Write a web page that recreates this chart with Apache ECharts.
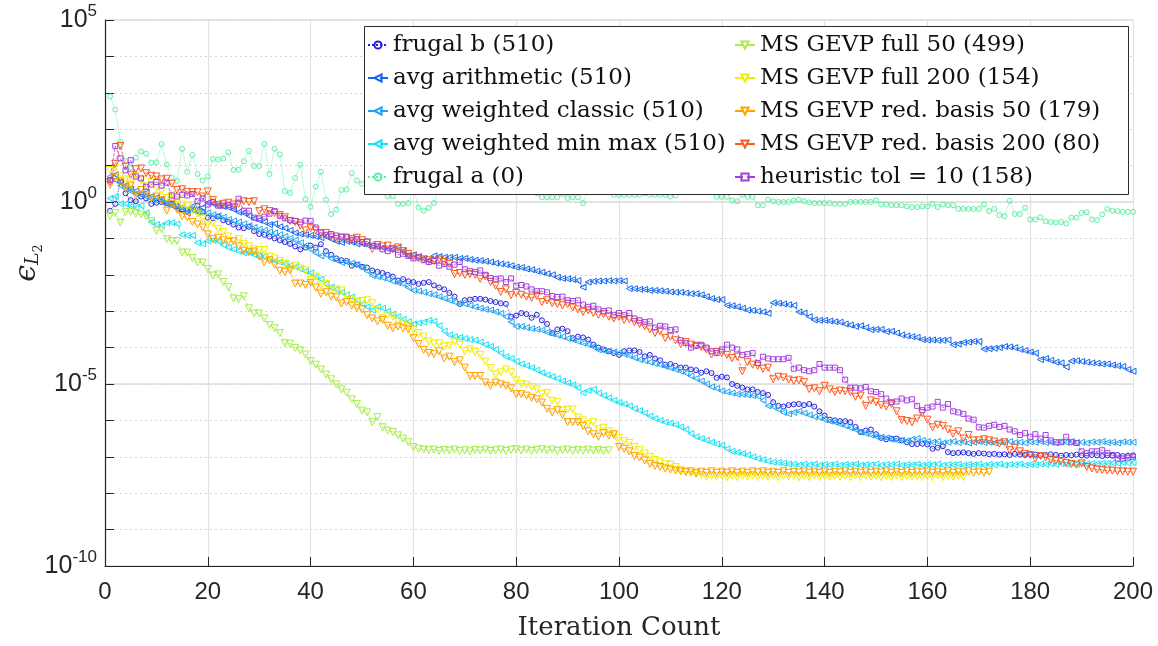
<!DOCTYPE html>
<html><head><meta charset="utf-8">
<script src="https://cdn.jsdelivr.net/npm/echarts@6/dist/echarts.min.js"></script>
<style>html,body{margin:0;padding:0;background:#fff}#c{width:1158px;height:646px}</style>
</head><body><div id="c"></div>
<script>
// Values are log10 of the error, one per iteration starting at iteration 1
var seriesNames = ['frugal b (510)','avg arithmetic (510)','avg weighted classic (510)','avg weighted min max (510)','frugal a (0)',
  'MS GEVP full 50 (499)','MS GEVP full 200 (154)','MS GEVP red. basis 50 (179)','MS GEVP red. basis 200 (80)','heuristic tol = 10 (158)'];
var xTicks = [0,20,40,60,80,100,120,140,160,180,200];
var yDecadeLabels = [-10,-5,0,5];

var frugalB_log10 = [
-0.24,-0.05,0.56,0.24,0.05,0.02,0.15,0.10,-0.05,-0.02,
0.00,-0.03,-0.05,-0.12,-0.20,-0.25,-0.15,-0.10,-0.28,-0.43,
-0.45,-0.40,-0.50,-0.55,-0.62,-0.70,-0.72,-0.68,-0.80,-0.88,
-0.90,-0.95,-1.00,-1.05,-1.10,-1.15,-1.22,-1.30,-1.25,-1.20,
-1.25,-1.16,-1.35,-1.45,-1.55,-1.60,-1.62,-1.75,-1.72,-1.78,
-1.80,-1.88,-1.92,-1.95,-2.00,-2.05,-2.16,-2.12,-2.18,-2.20,
-2.25,-2.22,-2.20,-2.29,-2.35,-2.40,-2.50,-2.60,-2.80,-2.70,
-2.68,-2.66,-2.66,-2.68,-2.72,-2.75,-2.78,-2.80,-3.15,-3.12,
-3.05,-3.08,-3.18,-3.10,-3.25,-3.35,-3.60,-3.50,-3.48,-3.55,
-3.74,-3.70,-3.72,-3.78,-3.92,-4.00,-4.05,-4.10,-4.15,-4.20,
-4.10,-4.08,-4.08,-4.12,-4.24,-4.20,-4.30,-4.35,-4.47,-4.45,
-4.50,-4.55,-4.55,-4.60,-4.62,-4.69,-4.65,-4.70,-4.83,-4.80,
-4.82,-5.00,-5.05,-5.10,-5.15,-5.15,-5.22,-5.25,-5.30,-5.50,
-5.60,-5.62,-5.58,-5.56,-5.55,-5.58,-5.55,-5.62,-5.75,-5.87,
-5.98,-6.00,-6.02,-6.02,-6.05,-6.18,-6.32,-6.28,-6.25,-6.38,
-6.48,-6.52,-6.50,-6.50,-6.55,-6.60,-6.65,-6.65,-6.64,-6.66,
-6.78,-6.75,-6.71,-6.87,-6.90,-6.89,-6.88,-6.90,-6.92,-6.90,
-6.91,-6.93,-6.92,-6.94,-6.93,-6.95,-6.92,-6.94,-6.95,-6.93,
-6.94,-6.96,-6.95,-6.93,-6.95,-6.97,-6.95,-6.96,-6.94,-6.96,
-6.97,-6.95,-6.96,-6.98,-6.96,-6.97,-6.95,-6.98,-6.97,-6.96];

var avgArithmetic_log10 = [
0.62,0.75,0.55,0.45,0.35,0.30,0.21,0.25,0.15,0.12,
0.05,-0.05,-0.10,-0.18,-0.25,-0.30,-0.22,-0.28,-0.15,-0.02,
-0.05,-0.10,-0.12,-0.15,-0.20,-0.28,-0.30,-0.38,-0.45,-0.50,
-0.55,-0.62,-0.60,-0.68,-0.72,-0.78,-0.85,-0.88,-0.90,-0.92,
-0.95,-0.98,-0.95,-1.02,-1.08,-1.11,-1.08,-1.10,-1.15,-1.15,
-1.18,-1.20,-1.22,-1.25,-1.28,-1.30,-1.25,-1.35,-1.48,-1.45,
-1.50,-1.55,-1.60,-1.48,-1.50,-1.52,-1.52,-1.52,-1.55,-1.55,
-1.58,-1.60,-1.61,-1.63,-1.65,-1.68,-1.70,-1.72,-1.75,-1.79,
-1.80,-1.84,-1.86,-1.90,-1.93,-1.97,-2.00,-2.07,-2.10,-2.11,
-2.13,-2.16,-2.34,-2.20,-2.18,-2.17,-2.17,-2.16,-2.17,-2.16,
-2.17,-2.38,-2.38,-2.40,-2.40,-2.43,-2.43,-2.44,-2.45,-2.47,
-2.48,-2.48,-2.50,-2.52,-2.52,-2.55,-2.60,-2.65,-2.68,-2.68,
-2.84,-2.85,-2.88,-2.92,-2.97,-2.98,-3.00,-3.02,-3.06,-2.77,
-2.78,-2.80,-2.82,-2.84,-3.02,-3.05,-3.15,-3.24,-3.25,-3.25,
-3.27,-3.29,-3.30,-3.35,-3.38,-3.42,-3.40,-3.45,-3.51,-3.50,
-3.50,-3.56,-3.55,-3.60,-3.65,-3.68,-3.70,-3.72,-3.78,-3.79,
-3.79,-3.80,-3.80,-3.79,-3.92,-3.90,-3.86,-3.85,-3.83,-3.83,
-4.04,-4.03,-4.02,-4.00,-3.97,-3.98,-4.00,-4.05,-4.08,-4.12,
-4.15,-4.33,-4.30,-4.35,-4.40,-4.42,-4.53,-4.37,-4.36,-4.38,
-4.40,-4.42,-4.43,-4.45,-4.45,-4.48,-4.50,-4.52,-4.60,-4.65];

var avgWeightedClassic_log10 = [
0.70,0.60,0.45,0.40,0.30,0.22,0.25,0.15,0.10,0.05,
0.08,0.00,-0.05,-0.10,-0.15,-0.20,-0.12,-0.25,-0.28,-0.30,
-0.35,-0.38,-0.42,-0.48,-0.52,-0.55,-0.60,-0.65,-0.70,-0.75,
-0.78,-0.82,-0.85,-0.90,-0.95,-1.00,-1.05,-1.12,-1.20,-1.30,
-1.40,-1.48,-1.45,-1.55,-1.60,-1.66,-1.65,-1.68,-1.72,-1.80,
-1.90,-2.02,-2.05,-2.08,-2.12,-2.18,-2.22,-2.25,-2.35,-2.43,
-2.45,-2.48,-2.52,-2.55,-2.60,-2.65,-2.70,-2.75,-2.78,-2.80,
-2.84,-2.88,-2.92,-2.95,-2.97,-3.02,-3.06,-3.15,-3.30,-3.42,
-3.42,-3.45,-3.48,-3.50,-3.52,-3.58,-3.62,-3.66,-3.70,-3.75,
-3.78,-3.83,-3.88,-3.92,-3.98,-4.06,-4.08,-4.10,-4.12,-4.15,
-4.18,-4.22,-4.28,-4.33,-4.36,-4.40,-4.44,-4.47,-4.52,-4.56,
-4.60,-4.65,-4.70,-4.78,-4.85,-4.92,-5.00,-5.08,-5.12,-5.19,
-5.22,-5.25,-5.28,-5.28,-5.30,-5.32,-5.33,-5.45,-5.60,-5.62,
-5.70,-5.78,-5.82,-5.78,-5.75,-5.80,-5.85,-5.90,-5.92,-5.98,
-6.02,-6.05,-6.10,-6.15,-6.20,-6.25,-6.32,-6.36,-6.40,-6.44,
-6.46,-6.48,-6.52,-6.54,-6.55,-6.56,-6.52,-6.50,-6.55,-6.58,
-6.60,-6.58,-6.62,-6.60,-6.58,-6.61,-6.59,-6.62,-6.60,-6.58,
-6.61,-6.60,-6.62,-6.59,-6.60,-6.58,-6.61,-6.60,-6.62,-6.59,
-6.60,-6.58,-6.61,-6.60,-6.62,-6.59,-6.60,-6.58,-6.61,-6.60,
-6.62,-6.59,-6.60,-6.58,-6.61,-6.60,-6.62,-6.59,-6.60,-6.60];

var avgWeightedMinMax_log10 = [
0.10,0.15,-0.05,-0.05,-0.12,-0.15,-0.10,-0.30,-0.55,-0.62,
-0.65,-0.57,-0.57,-0.60,-0.90,-0.92,-0.92,-1.12,-1.15,-1.07,
-1.05,-1.07,-1.18,-1.25,-1.30,-1.35,-1.40,-1.38,-1.45,-1.50,
-1.50,-1.58,-1.62,-1.65,-1.70,-1.75,-1.78,-1.84,-1.90,-1.95,
-2.05,-2.12,-2.25,-2.34,-2.40,-2.48,-2.55,-2.61,-2.70,-2.80,
-2.88,-2.97,-2.88,-2.92,-3.00,-3.08,-3.15,-3.22,-3.29,-3.35,
-3.32,-3.30,-3.25,-3.28,-3.40,-3.55,-3.65,-3.70,-3.72,-3.75,
-3.78,-3.80,-3.85,-3.92,-3.97,-4.05,-4.15,-4.25,-4.30,-4.38,
-4.45,-4.50,-4.55,-4.62,-4.69,-4.75,-4.80,-4.85,-4.92,-4.97,
-5.02,-5.10,-5.24,-5.18,-5.15,-5.25,-5.32,-5.38,-5.45,-5.51,
-5.55,-5.60,-5.68,-5.73,-5.80,-5.88,-5.95,-6.00,-6.05,-6.08,
-6.12,-6.18,-6.25,-6.36,-6.45,-6.50,-6.55,-6.60,-6.65,-6.68,
-6.78,-6.85,-6.88,-6.91,-6.95,-7.00,-7.05,-7.08,-7.12,-7.15,
-7.16,-7.18,-7.20,-7.20,-7.22,-7.20,-7.22,-7.20,-7.23,-7.21,
-7.22,-7.20,-7.23,-7.21,-7.22,-7.20,-7.23,-7.21,-7.22,-7.20,
-7.23,-7.21,-7.22,-7.20,-7.23,-7.21,-7.22,-7.20,-7.23,-7.21,
-7.22,-7.20,-7.23,-7.21,-7.22,-7.20,-7.23,-7.21,-7.22,-7.20,
-7.23,-7.21,-7.22,-7.20,-7.23,-7.21,-7.22,-7.20,-7.23,-7.21,
-7.22,-7.20,-7.21,-7.19,-7.21,-7.19,-7.20,-7.18,-7.20,-7.18,
-7.19,-7.18,-7.19,-7.17,-7.18,-7.17,-7.18,-7.16,-7.17,-7.16];

var frugalA_log10 = [
2.90,2.54,1.65,1.12,0.95,1.22,1.39,1.33,1.08,1.09,
1.59,1.03,0.67,0.58,1.46,0.83,1.29,0.77,0.59,0.70,
1.18,1.17,1.19,1.36,0.88,0.89,1.12,1.40,0.99,0.99,
1.59,0.77,1.46,1.31,0.30,0.25,0.66,1.02,0.08,-0.13,
0.42,0.83,0.06,-0.33,-0.21,0.33,0.34,0.79,0.59,0.50,
0.55,0.62,0.48,0.40,0.16,0.16,-0.05,-0.05,-0.03,0.38,
-0.15,-0.24,-0.16,-0.03,0.40,0.50,0.45,0.35,0.42,0.52,
0.45,0.40,0.36,0.46,0.50,0.41,0.35,0.40,0.45,0.40,
0.36,0.32,0.30,0.24,0.13,0.13,0.13,0.13,0.22,0.11,
0.13,0.13,-0.03,0.35,0.40,0.35,0.31,0.30,0.20,0.20,
0.20,0.20,0.20,0.20,0.24,0.20,0.20,0.20,0.20,0.15,
0.18,0.30,0.35,0.35,0.30,0.35,0.30,0.30,0.14,0.14,
0.14,0.04,0.02,0.20,0.14,0.14,-0.09,-0.09,0.06,0.02,
0.00,0.00,0.00,0.04,0.06,0.02,-0.01,-0.03,-0.03,-0.03,
-0.03,-0.05,-0.05,-0.05,0.00,0.00,0.00,0.00,0.00,0.04,
-0.07,-0.07,-0.09,-0.09,-0.09,-0.12,-0.14,-0.14,-0.12,-0.12,
-0.05,-0.14,-0.07,-0.09,-0.09,-0.19,-0.19,-0.19,-0.19,-0.19,
-0.07,-0.25,-0.19,-0.36,-0.39,0.03,-0.33,-0.33,-0.16,-0.48,
-0.48,-0.42,-0.53,-0.55,-0.57,-0.55,-0.59,-0.43,-0.43,-0.30,
-0.28,-0.48,-0.50,-0.34,-0.19,-0.24,-0.25,-0.27,-0.27,-0.27];

var gevpFull50_log10 = [
-0.39,-0.30,-0.57,-0.27,-0.27,-0.32,-0.34,-0.39,-0.52,-0.79,
-0.75,-1.02,-1.07,-1.07,-1.39,-1.39,-1.54,-1.66,-1.66,-1.84,
-2.02,-1.99,-2.20,-2.34,-2.65,-2.67,-2.59,-2.92,-3.06,-3.06,
-3.20,-3.38,-3.47,-3.60,-3.88,-3.89,-4.01,-4.08,-4.19,-4.37,
-4.47,-4.60,-4.74,-4.87,-5.01,-5.15,-5.24,-5.42,-5.55,-5.73,
-5.78,-6.05,-5.91,-6.19,-6.28,-6.32,-6.41,-6.50,-6.60,-6.73,
-6.78,-6.80,-6.82,-6.80,-6.84,-6.81,-6.83,-6.80,-6.84,-6.82,
-6.85,-6.81,-6.83,-6.80,-6.84,-6.82,-6.80,-6.84,-6.81,-6.79,
-6.83,-6.80,-6.84,-6.81,-6.79,-6.83,-6.80,-6.84,-6.82,-6.80,
-6.84,-6.81,-6.83,-6.80,-6.83,-6.81,-6.84,-6.82];

var gevpFull200_log10 = [
0.88,0.95,0.70,0.62,0.51,0.72,0.60,0.45,0.56,0.38,
0.30,0.11,0.18,0.02,-0.07,-0.12,-0.20,-0.32,-0.45,-0.62,
-0.58,-0.75,-0.82,-0.95,-1.07,-1.02,-1.15,-1.22,-1.30,-1.32,
-1.32,-1.50,-1.55,-1.62,-1.70,-1.79,-1.75,-1.83,-1.88,-2.14,
-2.05,-2.29,-2.25,-2.43,-2.40,-2.43,-2.60,-2.68,-2.75,-2.72,
-2.70,-2.78,-2.95,-3.20,-3.11,-3.15,-3.28,-3.33,-3.40,-3.52,
-3.60,-3.70,-3.83,-3.89,-3.88,-3.97,-3.95,-3.83,-3.92,-4.10,
-4.05,-4.12,-4.20,-4.38,-4.56,-4.74,-4.68,-4.60,-4.68,-4.90,
-5.00,-5.02,-5.08,-5.15,-5.28,-5.25,-5.46,-5.50,-5.73,-5.70,
-5.70,-5.92,-6.00,-6.10,-6.05,-6.24,-6.20,-6.30,-6.41,-6.48,
-6.57,-6.62,-6.73,-6.82,-6.91,-7.00,-7.09,-7.15,-7.20,-7.22,
-7.28,-7.35,-7.40,-7.45,-7.48,-7.50,-7.55,-7.52,-7.55,-7.52,
-7.56,-7.52,-7.56,-7.52,-7.55,-7.52,-7.56,-7.52,-7.56,-7.51,
-7.56,-7.52,-7.55,-7.52,-7.56,-7.52,-7.56,-7.51,-7.56,-7.52,
-7.55,-7.52,-7.56,-7.52,-7.56,-7.51,-7.56,-7.52,-7.55,-7.52,
-7.56,-7.52,-7.56,-7.51,-7.56,-7.52,-7.55,-7.52,-7.56,-7.52,
-7.56,-7.51,-7.56,-7.52,-7.55,-7.52,-7.56];

var gevpRed50_log10 = [
0.47,0.67,0.56,0.40,0.45,0.18,0.33,0.25,0.10,0.15,
0.05,-0.24,-0.05,-0.20,-0.39,-0.42,-0.55,-0.62,-0.70,-0.89,
-1.02,-0.98,-1.05,-1.10,-1.08,-1.22,-1.34,-1.38,-1.36,-1.50,
-1.66,-1.60,-1.72,-1.89,-1.92,-1.88,-2.24,-2.24,-2.28,-2.22,
-2.35,-2.52,-2.48,-2.60,-2.62,-2.79,-2.75,-2.85,-2.92,-2.95,
-3.11,-3.20,-3.28,-3.24,-3.40,-3.47,-3.42,-3.47,-3.50,-3.74,
-3.90,-4.06,-4.15,-4.18,-4.10,-4.30,-4.25,-4.40,-4.35,-4.55,
-4.78,-4.78,-4.78,-4.96,-5.05,-4.96,-5.01,-5.05,-5.12,-5.28,
-5.28,-5.32,-5.38,-5.42,-5.51,-5.68,-5.78,-5.72,-5.85,-6.05,
-6.05,-6.05,-6.15,-6.30,-6.38,-6.45,-6.35,-6.42,-6.38,-6.73,
-6.78,-6.85,-6.98,-7.02,-7.10,-7.20,-7.25,-7.28,-7.32,-7.35,
-7.38,-7.40,-7.42,-7.40,-7.44,-7.41,-7.44,-7.40,-7.44,-7.41,
-7.44,-7.40,-7.44,-7.41,-7.44,-7.40,-7.43,-7.40,-7.44,-7.41,
-7.44,-7.40,-7.44,-7.41,-7.43,-7.40,-7.44,-7.41,-7.44,-7.40,
-7.44,-7.41,-7.43,-7.40,-7.44,-7.41,-7.44,-7.40,-7.44,-7.41,
-7.43,-7.40,-7.44,-7.41,-7.44,-7.40,-7.44,-7.41,-7.43,-7.40,
-7.44,-7.41,-7.44,-7.40,-7.44,-7.41,-7.43,-7.40,-7.44,-7.41,
-7.44,-7.41];

var gevpRed200_log10 = [
0.55,1.05,1.54,0.97,0.75,0.90,0.92,0.79,0.72,0.70,
0.62,0.64,0.50,0.33,0.35,0.28,0.27,0.27,0.15,0.29,
0.05,-0.08,-0.05,-0.02,-0.07,-0.05,0.02,0.00,0.02,-0.25,
-0.20,-0.25,-0.30,-0.36,-0.42,-0.52,-0.55,-0.65,-0.78,-0.72,
-0.78,-0.85,-0.85,-0.95,-1.02,-0.98,-1.00,-1.02,-0.98,-1.05,
-1.12,-1.29,-1.18,-1.22,-1.20,-1.30,-1.25,-1.35,-1.43,-1.50,
-1.55,-1.58,-1.60,-1.62,-1.58,-1.65,-1.70,-1.98,-1.95,-2.00,
-1.98,-2.00,-2.11,-2.05,-2.20,-2.30,-2.47,-2.40,-2.56,-2.50,
-2.55,-2.60,-2.63,-2.58,-2.75,-2.70,-2.78,-2.80,-2.84,-2.80,
-2.90,-2.95,-3.02,-2.98,-3.05,-3.10,-3.08,-3.15,-3.20,-3.15,
-3.24,-3.22,-3.30,-3.35,-3.42,-3.50,-3.60,-3.55,-3.74,-3.70,
-3.80,-3.90,-3.85,-3.92,-3.95,-3.98,-4.05,-4.19,-4.12,-4.15,
-4.20,-4.29,-4.25,-4.65,-4.40,-4.47,-4.50,-4.58,-4.55,-4.87,
-4.80,-4.82,-4.88,-4.92,-4.90,-4.95,-5.14,-5.12,-5.20,-5.05,
-5.15,-5.22,-5.18,-5.20,-5.22,-5.35,-5.32,-5.60,-5.45,-5.50,
-5.58,-5.62,-5.55,-5.75,-5.99,-6.02,-6.05,-5.95,-5.80,-5.98,
-6.19,-6.12,-6.15,-6.25,-6.37,-6.30,-6.50,-6.40,-6.55,-6.55,
-6.52,-6.55,-6.58,-6.64,-6.60,-6.82,-6.75,-6.85,-6.92,-6.95,
-7.05,-6.98,-7.02,-7.08,-7.10,-7.12,-7.17,-7.20,-7.22,-7.18,
-7.28,-7.32,-7.35,-7.36,-7.38,-7.38,-7.40,-7.40,-7.41,-7.41];

var heuristic_log10 = [
0.60,1.54,1.20,0.87,1.15,0.70,0.65,0.42,0.48,0.55,
0.45,0.53,0.18,0.15,0.20,0.18,0.22,0.02,0.10,-0.07,
0.00,-0.10,-0.10,-0.08,-0.12,0.09,-0.24,-0.24,-0.43,-0.45,
-0.40,-0.32,-0.25,-0.38,-0.45,-0.50,-0.52,-0.56,-0.51,-0.52,
-0.70,-0.84,-0.90,-0.88,-0.92,-0.95,-0.95,-1.04,-1.02,-1.10,
-1.08,-1.20,-1.22,-1.30,-1.35,-1.28,-1.45,-1.42,-1.48,-1.55,
-1.52,-1.60,-1.65,-1.62,-1.75,-1.70,-1.78,-1.72,-1.65,-1.85,
-1.90,-1.92,-1.88,-2.00,-2.09,-2.12,-2.10,-2.20,-2.10,-2.30,
-2.28,-2.32,-2.40,-2.45,-2.45,-2.48,-2.58,-2.61,-2.60,-2.70,
-2.72,-2.70,-2.82,-2.88,-2.85,-2.95,-3.00,-2.98,-3.10,-3.05,
-3.11,-3.05,-3.20,-3.25,-3.30,-3.28,-3.45,-3.40,-3.42,-3.52,
-3.50,-3.80,-3.88,-4.00,-3.95,-3.92,-4.00,-4.10,-4.15,-4.05,
-3.92,-4.00,-4.05,-4.20,-4.18,-4.15,-4.42,-4.25,-4.30,-4.32,
-4.32,-4.32,-4.28,-4.58,-4.55,-4.62,-4.65,-4.62,-4.45,-4.55,
-4.55,-4.55,-4.62,-4.88,-5.10,-5.10,-5.12,-5.08,-5.20,-5.22,
-5.28,-5.40,-5.50,-5.48,-5.40,-5.45,-5.42,-5.60,-5.72,-5.65,
-5.62,-5.49,-5.65,-5.55,-5.75,-5.78,-5.82,-5.95,-5.98,-6.19,
-6.20,-6.15,-6.12,-6.18,-6.15,-6.25,-6.30,-6.40,-6.35,-6.45,
-6.38,-6.50,-6.40,-6.55,-6.60,-6.60,-6.45,-6.60,-6.62,-6.85,
-6.90,-6.85,-6.85,-6.82,-6.90,-6.95,-7.05,-7.05,-7.02,-7.00];

var allLog = [frugalB_log10, avgArithmetic_log10, avgWeightedClassic_log10, avgWeightedMinMax_log10, frugalA_log10,
  gevpFull50_log10, gevpFull200_log10, gevpRed50_log10, gevpRed200_log10, heuristic_log10];
var colors = ['#2121e0','#1466f0','#1fa3f0','#14e2f5','#5ef0a5','#a6ee4a','#f2ee00','#ffa200','#ff5a1c','#a33fe0'];
var symbols = ['circle','triangle','triangle','triangle','circle','triangle','triangle','triangle','triangle','rect'];
var rotations = [0,90,90,90,0,180,180,180,180,0];
var dashes = ['dotted','dashed','dashed','dashed','dotted','dashed','dashed','dashed','dashed','dashed'];
var sizes = [5,6,6,6,5,7,7,7,7,5];

var series = allLog.map(function(arr, k){
  return {
    name: seriesNames[k], type: 'line', z: 2 + k*0.01,
    data: arr.map(function(v,i){ return [i+1, Math.pow(10, v)]; }),
    symbol: symbols[k], symbolRotate: rotations[k], symbolSize: sizes[k], showAllSymbol: true,
    lineStyle: {color: colors[k], width: 0.8, type: dashes[k]},
    itemStyle: {color: 'rgba(255,255,255,0)', borderColor: colors[k], borderWidth: 1},
    emphasis: {disabled: true}, animation: false
  };
});
// empty helpers so the decade grid axes are laid out
series.push({type:'line', yAxisIndex:1, data:[], silent:true});
series.push({type:'line', yAxisIndex:2, data:[], silent:true});

var serif = 'DejaVu Serif';
var sans = 'Liberation Sans';
var legendCommon = {
  orient: 'vertical', itemWidth: 20, itemHeight: 9, itemGap: 7, z: 10,
  textStyle: {fontFamily: serif, fontSize: 23, color: '#111', lineHeight: 26},
  backgroundColor: 'transparent', selectedMode: false
};
var chart = echarts.init(document.getElementById('c'), null, {renderer:'canvas'});
chart.setOption({
  animation: false,
  backgroundColor: '#fff',
  grid: {left: 105, right: 25, top: 20, bottom: 74, containLabel: false},
  xAxis: {
    type: 'value', min: 0, max: 200, interval: 20,
    axisLine: {onZero: false, lineStyle: {color: '#262626', width: 1.2}},
    axisTick: {inside: true, length: 9, lineStyle: {color: '#262626'}},
    axisLabel: {fontFamily: sans, fontSize: 24, color: '#262626', margin: 14,
      formatter: function(v){ return xTicks.indexOf(v) >= 0 ? String(v) : ''; }},
    splitLine: {show: true, lineStyle: {color: '#e2e2e2', width: 1.2}},
    name: 'Iteration Count', nameLocation: 'middle', nameGap: 49,
    nameTextStyle: {fontFamily: serif, fontSize: 26, color: '#262626'}
  },
  yAxis: [{
    // data axis (logarithmic)
    type: 'log', logBase: 10, min: 1e-10, max: 1e5,
    axisLine: {show: true, onZero: false, lineStyle: {color: '#262626', width: 1.2}},
    axisTick: {show: false}, axisLabel: {show: false}, splitLine: {show: false},
    name: '{e|ϵ}{l|L}{s|2}', nameLocation: 'middle', nameGap: 60, nameRotate: 90,
    nameTextStyle: {padding: [0,0,0,60], rich: {
      e: {fontFamily: serif, fontStyle: 'italic', fontSize: 30, color: '#262626'},
      l: {fontFamily: serif, fontStyle: 'italic', fontSize: 19, color: '#262626', padding: [12,0,0,0]},
      s: {fontFamily: serif, fontSize: 13, color: '#262626', padding: [22,0,0,0]}
    }}
  }, {
    // decade ticks, minor grid and labels (exponent space, aligned with the log axis)
    type: 'value', min: -10, max: 5, interval: 1, position: 'left',
    axisLine: {show: false},
    axisTick: {inside: true, length: 9, lineStyle: {color: '#262626'}},
    splitLine: {show: true, lineStyle: {color: '#d6d6d6', type: [2,3], width: 1}},
    axisLabel: {margin: 8, color: '#262626', fontFamily: sans,
      formatter: function(e){
        if (yDecadeLabels.indexOf(e) < 0) return '';
        return '{b|10}{s|' + e + '}';
      },
      rich: {b: {fontFamily: sans, fontSize: 25, color: '#262626'},
             s: {fontFamily: sans, fontSize: 17, color: '#262626', padding: [0,0,18,0]}}
    }
  }, {
    type: 'value', min: -10, max: 5, interval: 5, position: 'left',
    axisLine: {show: false}, axisTick: {show: false}, axisLabel: {show: false},
    splitLine: {show: true, lineStyle: {color: '#dcdcdc', width: 1.5}}
  }],
  graphic: {elements: [{type: 'rect', z: 8, shape: {x: 364.5, y: 26.5, width: 764, height: 168},
    style: {fill: '#ffffff', stroke: '#2b2b2b', lineWidth: 1}}]},
  legend: [
    Object.assign({}, legendCommon, {left: 362, top: 27, data: seriesNames.slice(0,5)}),
    Object.assign({}, legendCommon, {left: 729, top: 27, data: seriesNames.slice(5)})
  ],
  series: series
});
</script></body></html>
